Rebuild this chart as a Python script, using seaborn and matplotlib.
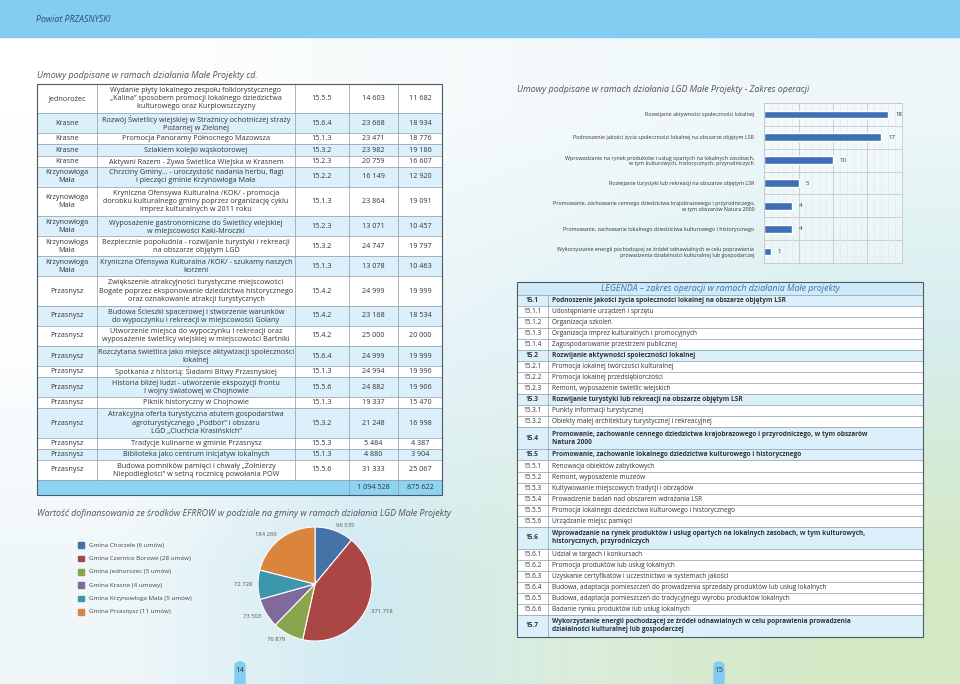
import numpy as np
import pandas as pd
import matplotlib
matplotlib.use("Agg")
import matplotlib.pyplot as plt
from matplotlib.patches import Rectangle, FancyBboxPatch
import seaborn as sns

# Umowy podpisane w ramach działania Małe Projekty (cd.)
gminy = ["Jednorożec", "Krasne", "Krasne", "Krasne", "Krasne",
         "Krzynowłoga\nMała", "Krzynowłoga\nMała", "Krzynowłoga\nMała",
         "Krzynowłoga\nMała", "Krzynowłoga\nMała",
         "Przasnysz", "Przasnysz", "Przasnysz", "Przasnysz", "Przasnysz",
         "Przasnysz", "Przasnysz", "Przasnysz", "Przasnysz", "Przasnysz", "Przasnysz"]
projekty = [
    "Wydanie płyty lokalnego zespołu folklorystycznego\n„Kalina” sposobem promocji lokalnego dziedzictwa\nkulturowego oraz Kurpiowszczyzny",
    "Rozwój Świetlicy wiejskiej w Strażnicy ochotniczej straży\nPożarnej w Zielonej",
    "Promocja Panoramy Północnego Mazowsza",
    "Szlakiem kolejki wąskotorowej",
    "Aktywni Razem - Żywa Świetlica Wiejska w Krasnem",
    "Chrzciny Gminy… - uroczystość nadania herbu, flagi\ni pieczęci gminie Krzynowłoga Mała",
    "Kryniczna Ofensywa Kulturalna /KOK/ - promocja\ndorobku kulturalnego gminy poprzez organizację cyklu\nimprez kulturalnych w 2011 roku",
    "Wyposażenie gastronomiczne do Świetlicy wiejskiej\nw miejscowości Kaki-Mroczki",
    "Bezpiecznie popołudnia - rozwijanie turystyki i rekreacji\nna obszarze objętym LGD",
    "Kryniczna Ofensywa Kulturalna /KOK/ - szukamy naszych\nkorzeni",
    "Zwiększenie atrakcyjności turystyczne miejscowości\nBogate poprzez eksponowanie dziedzictwa historycznego\noraz oznakowanie atrakcji turystycznych",
    "Budowa Ścieszki spacerowej i stworzenie warunków\ndo wypoczynku i rekreacji w miejscowości Golany",
    "Utworzenie miejsca do wypoczynku i rekreacji oraz\nwyposażenie świetlicy wiejskiej w miejscowości Bartniki",
    "Rozczytana świetlica jako miejsce aktywizacji społeczności\nlokalnej",
    "Spotkania z historią: Śladami Bitwy Przasnyskiej",
    "Historia bliżej ludzi - utworzenie ekspozycji frontu\nI wojny światowej w Chojnowie",
    "Piknik historyczny w Chojnowie",
    "Atrakcyjna oferta turystyczna atutem gospodarstwa\nagroturystycznego „Podbór” i obszaru\nLGD „Ciuchcia Krasińskich”",
    "Tradycje kulinarne w gminie Przasnysz",
    "Biblioteka jako centrum inicjatyw lokalnych",
    "Budowa pomników pamięci i chwały „Żołnierzy\nNiepodległości” w setną rocznicę powołania POW",
]
kody = ["15.5.5", "15.6.4", "15.1.3", "15.3.2", "15.2.3", "15.2.2", "15.1.3", "15.2.3",
        "15.3.2", "15.1.3", "15.4.2", "15.4.2", "15.4.2", "15.6.4", "15.1.3", "15.5.6",
        "15.1.3", "15.3.2", "15.5.3", "15.1.3", "15.5.6"]
koszt = [14603, 23668, 23471, 23982, 20759, 16149, 23864, 13071, 24747, 13078, 24999,
         23168, 25000, 24999, 24994, 24882, 19337, 21248, 5484, 4880, 31333]
dofinansowanie = [11682, 18934, 18776, 19186, 16607, 12920, 19091, 10457, 19797, 10463, 19999,
                  18534, 20000, 19999, 19996, 19906, 15470, 16998, 4387, 3904, 25067]
suma_koszt = 1094528
suma_dofin = 875622

# Wartość dofinansowania w podziale na gminy
gminy_pie = ["Gmina Chorzele (6 umów)", "Gmina Czernice Borowe (28 umów)",
             "Gmina Jednorożec (5 umów)", "Gmina Krasne (4 umowy)",
             "Gmina Krzynowłoga Mała (5 umów)", "Gmina Przasnysz (11 umów)"]
wartosci_pie = [96535, 371718, 76879, 73503, 72728, 184260]
kolory_pie = ["#4572a7", "#aa4643", "#89a54e", "#80699b", "#3d96ae", "#db843d"]

# Zakres operacji
zakres = [
    "Rozwijanie aktywności społeczności lokalnej",
    "Podnoszenie jakości życia społeczności lokalnej na obszarze objętym LSR",
    "Wprowadzanie na rynek produktów i usług opartych na lokalnych zasobach,\nw tym kulturowych, historycznych, przyrodniczych",
    "Rozwijanie turystyki lub rekreacji na obszarze objętym LSR",
    "Promowanie, zachowanie cennego dziedzictwa krajobrazowego i przyrodniczego,\nw tym obszarów Natura 2000",
    "Promowanie, zachowanie lokalnego dziedzictwa kulturowego i historycznego",
    "Wykorzystanie energii pochodzącej ze źródeł odnawialnych w celu poprawienia\nprowadzenia działalności kulturalnej lub gospodarczej",
]
liczba_umow = [18, 17, 10, 5, 4, 4, 1]

# Legenda - zakres operacji
legenda_kody = ["15.1", "15.1.1", "15.1.2", "15.1.3", "15.1.4", "15.2", "15.2.1", "15.2.2",
                "15.2.3", "15.3", "15.3.1", "15.3.2", "15.4", "15.5", "15.5.1", "15.5.2",
                "15.5.3", "15.5.4", "15.5.5", "15.5.6", "15.6", "15.6.1", "15.6.2", "15.6.3",
                "15.6.4", "15.6.5", "15.6.6", "15.7"]
legenda_opisy = [
    "Podnoszenie jakości życia społeczności lokalnej na obszarze objętym LSR",
    "Udostępnianie urządzeń i sprzętu",
    "Organizacja szkoleń",
    "Organizacja imprez kulturalnych i promocyjnych",
    "Zagospodarowanie przestrzeni publicznej",
    "Rozwijanie aktywności społeczności lokalnej",
    "Promocja lokalnej twórczości kulturalnej",
    "Promocja lokalnej przedsiębiorczości",
    "Remont, wyposażenie świetlic wiejskich",
    "Rozwijanie turystyki lub rekreacji na obszarze objętym LSR",
    "Punkty informacji turystycznej",
    "Obiekty małej architektury turystycznej i rekreacyjnej",
    "Promowanie, zachowanie cennego dziedzictwa krajobrazowego i przyrodniczego, w tym obszarów\nNatura 2000",
    "Promowanie, zachowanie lokalnego dziedzictwa kulturowego i historycznego",
    "Renowacja obiektów zabytkowych",
    "Remont, wyposażenie muzeów",
    "Kultywowanie miejscowych tradycji i obrzędów",
    "Prowadzenie badań nad obszarem wdrażania LSR",
    "Promocja lokalnego dziedzictwa kulturowego i historycznego",
    "Urządzanie miejsc pamięci",
    "Wprowadzanie na rynek produktów i usług opartych na lokalnych zasobach, w tym kulturowych,\nhistorycznych, przyrodniczych",
    "Udział w targach i konkursach",
    "Promocja produktów lub usług lokalnych",
    "Uzyskanie certyfikatów i uczestnictwo w systemach jakości",
    "Budowa, adaptacja pomieszczeń do prowadzenia sprzedaży produktów lub usług lokalnych",
    "Budowa, adaptacja pomieszczeń do tradycyjnego wyrobu produktów lokalnych",
    "Badanie rynku produktów lub usług lokalnych",
    "Wykorzystanie energii pochodzącej ze źródeł odnawialnych w celu poprawienia prowadzenia\ndziałalności kulturalnej lub gospodarczej",
]

sns.set_theme(style="white")
plt.rcParams['font.family'] = ['Open Sans', 'DejaVu Sans']

W, H = 960, 684
TXT = "#333333"
LINE = "#8a9aa5"
ROW_BLUE = "#dcf0fb"


def fbox(x0, y0, x1, y1):
    # pixel box -> figure fraction
    return [x0 / W, 1 - y1 / H, (x1 - x0) / W, (y1 - y0) / H]


def fmt(v):
    return f"{v:,}".replace(",", " ")


fig = plt.figure(figsize=(9.6, 6.84), dpi=100)
page = fig.add_axes([0, 0, 1, 1])
page.set_xlim(0, W)
page.set_ylim(H, 0)
page.axis('off')

# tło strony
bg = np.array([
    [[1.00, 1.00, 1.00], [0.97, 0.985, 0.99], [0.95, 0.975, 0.985], [0.93, 0.97, 0.98]],
    [[0.99, 0.995, 1.00], [0.92, 0.96, 0.975], [0.88, 0.95, 0.96], [0.84, 0.93, 0.93]],
    [[0.94, 0.97, 0.98], [0.82, 0.92, 0.95], [0.86, 0.93, 0.85], [0.83, 0.91, 0.77]],
])
page.imshow(bg, extent=(0, W, H, 0), interpolation='bilinear', aspect='auto', zorder=0)

# nagłówek
page.add_patch(Rectangle((0, 0), W, 37, color="#82cdf1", zorder=1))
page.text(36, 19, "Powiat PRZASNYSKI", fontsize=6.3, style='italic', color="#27507e",
          va='center', zorder=2)

# tytuły sekcji
tytul = dict(fontsize=6.4, style='italic', color="#555555", va='center', zorder=2)
page.text(37, 76, "Umowy podpisane w ramach działania Małe Projekty cd.", **tytul)
page.text(37, 513, "Wartość dofinansowania ze środków EFRROW w podziale na gminy w ramach działania LGD Małe Projekty", **tytul)
page.text(517, 90, "Umowy podpisane w ramach działania LGD Małe Projekty - Zakres operacji", **tytul)

# --- tabela umów ---
cols = [37, 97, 295, 349, 398, 442]
n_lines = [max(g.count("\n"), p.count("\n")) + 1 for g, p in zip(gminy, projekty)]
h_raw = np.array([2 + 9.2 * n for n in n_lines])
h_rows = h_raw * (480 - 84) / h_raw.sum()
y = 84.0
cell = dict(fontsize=5.2, color=TXT, ha='center', va='center', linespacing=1.22, zorder=3)
for i in range(len(gminy)):
    h = h_rows[i]
    fc = ROW_BLUE if i % 2 else "white"
    page.add_patch(Rectangle((cols[0], y), cols[-1] - cols[0], h, facecolor=fc,
                             edgecolor='none', zorder=2))
    yc = y + h / 2
    vals = [gminy[i], projekty[i], kody[i], fmt(koszt[i]), fmt(dofinansowanie[i])]
    for j, v in enumerate(vals):
        page.text((cols[j] + cols[j + 1]) / 2, yc, v, **cell)
    page.plot([cols[0], cols[-1]], [y, y], color=LINE, lw=0.5, zorder=3)
    y += h
# wiersz sumy
page.add_patch(Rectangle((cols[0], 480), cols[-1] - cols[0], 15, facecolor="#8fd3f3",
                         edgecolor='none', zorder=2))
page.plot([cols[0], cols[-1]], [480, 480], color=LINE, lw=0.5, zorder=3)
page.text((cols[3] + cols[4]) / 2, 487.5, fmt(suma_koszt), **cell)
page.text((cols[4] + cols[5]) / 2, 487.5, fmt(suma_dofin), **cell)
for j, x in enumerate(cols[1:-1]):
    y_end = 480 if j < 2 else 495
    page.plot([x, x], [84, y_end], color=LINE, lw=0.5, zorder=3)
page.add_patch(Rectangle((cols[0], 84), cols[-1] - cols[0], 411, fill=False,
                         edgecolor="#4d5a63", lw=0.8, zorder=4))

# --- wykres kołowy ---
axp = fig.add_axes(fbox(215, 484, 415, 684))
axp.pie(wartosci_pie, colors=kolory_pie, startangle=90, counterclock=False,
        labels=[fmt(v) for v in wartosci_pie], labeldistance=1.1,
        wedgeprops=dict(edgecolor='white', linewidth=0.8),
        textprops=dict(fontsize=4.2, color="#555555"))
axp.set_xlim(-1.754, 1.754)
axp.set_ylim(-1.754, 1.754)
axp.patch.set_alpha(0)

for i, (lab, c) in enumerate(zip(gminy_pie, kolory_pie)):
    yy = 545 + i * 13.4
    page.add_patch(Rectangle((78, yy - 2.8), 5.6, 5.6, color=c, zorder=3))
    page.text(89, yy, lab, fontsize=4.5, color="#444444", va='center', zorder=3)

# --- wykres słupkowy ---
df_zakres = pd.DataFrame({"zakres": zakres, "liczba": liczba_umow})
axb = fig.add_axes(fbox(764, 103, 902, 263))
sns.barplot(data=df_zakres, x="liczba", y="zakres", orient="h", color="#3f6fb5",
            width=0.34, saturation=1, ax=axb)
axb.set_xlim(0, 20)
axb.set_ylim(6.5, -0.5)
axb.set_xticks(range(0, 21, 5))
axb.set_xticks(range(0, 21), minor=True)
axb.set_axisbelow(True)
axb.grid(axis='x', which='major', color="#c4c8cc", lw=0.6)
axb.grid(axis='x', which='minor', color="#e2e5e8", lw=0.4)
for b in np.arange(-0.5, 7, 1):
    axb.axhline(b, color="#c4c8cc", lw=0.6, zorder=0)
axb.tick_params(axis='x', which='both', labelbottom=False, length=0)
axb.tick_params(axis='y', labelsize=3.9, length=0, pad=7, colors=TXT)
axb.set_xlabel("")
axb.set_ylabel("")
axb.set_facecolor((1, 1, 1, 0.35))
for s in axb.spines.values():
    s.set_color("#c4c8cc")
    s.set_linewidth(0.6)
axb.bar_label(axb.containers[0], padding=5, fontsize=4.4, color=TXT)

# --- legenda zakresu operacji ---
lx = [517, 548, 923]
page.add_patch(Rectangle((lx[0], 282), lx[2] - lx[0], 13, facecolor="#cfeaf8",
                         edgecolor='none', zorder=2))
page.text((lx[0] + lx[2]) / 2, 288.5, "LEGENDA – zakres operacji w ramach działania Małe projekty",
          fontsize=6.4, style='italic', color="#3f74ad", ha='center', va='center', zorder=3)
l_lines = np.array([o.count("\n") + 1 for o in legenda_opisy])
l_h = 11.0 * l_lines
l_h = l_h * (637 - 295) / l_h.sum()
y = 295.0
for kod, opis, h in zip(legenda_kody, legenda_opisy, l_h):
    glowny = kod.count(".") == 1
    fc = ROW_BLUE if glowny else "white"
    page.add_patch(Rectangle((lx[0], y), lx[2] - lx[0], h, facecolor=fc,
                             edgecolor='none', zorder=2))
    fw = 'bold' if glowny else 'normal'
    page.text((lx[0] + lx[1]) / 2, y + h / 2, kod, fontsize=4.7, fontweight=fw, color=TXT,
              ha='center', va='center', zorder=3)
    page.text(lx[1] + 4, y + h / 2, opis, fontsize=4.7, fontweight=fw, color=TXT,
              ha='left', va='center', linespacing=1.2, zorder=3)
    page.plot([lx[0], lx[2]], [y, y], color=LINE, lw=0.5, zorder=3)
    y += h
page.plot([lx[1], lx[1]], [295, 637], color=LINE, lw=0.5, zorder=3)
page.add_patch(Rectangle((lx[0], 282), lx[2] - lx[0], 637 - 282, fill=False,
                         edgecolor="#4d5a63", lw=0.8, zorder=4))

# numery stron
for x, nr in [(240, "14"), (719, "15")]:
    page.add_patch(FancyBboxPatch((x - 5, 662), 10, 32, boxstyle="round,pad=0,rounding_size=4.5",
                                  color="#82cdf1", zorder=3))
    page.text(x, 671, nr, fontsize=5.6, color="#2d3b45", ha='center', va='center', zorder=4)

fig.savefig("out.png", dpi=100)
